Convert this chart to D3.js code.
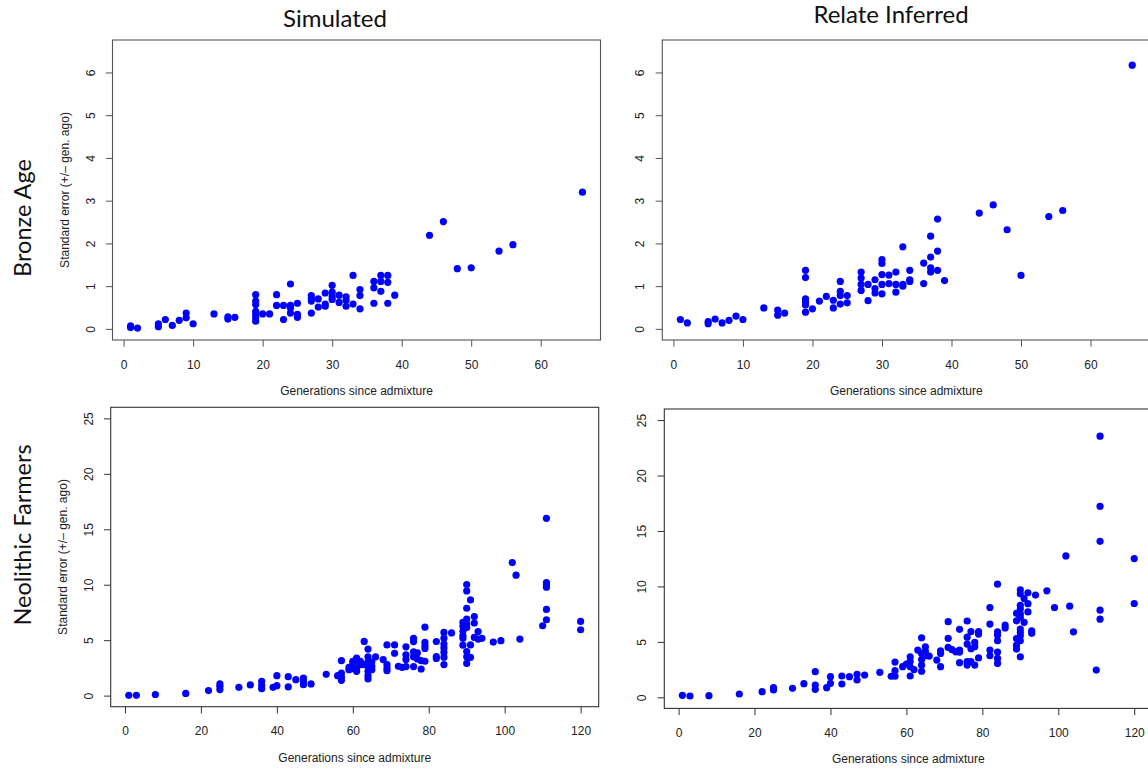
<!DOCTYPE html>
<html>
<head>
<meta charset="utf-8">
<script src="https://cdn.jsdelivr.net/npm/d3@7"></script>
<style>
  html, body { margin: 0; padding: 0; background: #fff; }
  svg { display: block; }
  .rtext { font-family: "Liberation Sans", Arial, Helvetica, sans-serif; font-size: 12px; fill: #222; }
  .big { font-family: Lato, "Open Sans", sans-serif; fill: #111; }
</style>
</head>
<body>
<svg id="chart" width="1148" height="769"></svg>
<script>
// ---------------- DATA ----------------
const columnTitles = ["Simulated", "Relate Inferred"];
const rowTitles = ["Bronze Age", "Neolithic Farmers"];
const xAxisTitle = "Generations since admixture";
const yAxisTitle = "Standard error (+/\u2013 gen. ago)";

const bronzeXTicks = [0, 10, 20, 30, 40, 50, 60];
const bronzeYTicks = [0, 1, 2, 3, 4, 5, 6];
const bronzeYLim = [0, 6.5];
const neoXTicks = [0, 20, 40, 60, 80, 100, 120];
const neoYTicks = [0, 5, 10, 15, 20, 25];
const neoYLim = [0, 25];

// [generations since admixture, standard error]
const bronzeSimulated = [
  [1,0.07],[1,0.03],[2,0.02],[5,0.12],[5,0.05],[6,0.22],[7,0.08],[8,0.2],[9,0.37],[9,0.26],[10,0.12],
  [13,0.35],[15,0.28],[15,0.23],[16,0.27],
  [19,0.8],[19,0.65],[19,0.57],[19,0.41],[19,0.34],[19,0.26],[19,0.18],[20,0.35],[21,0.35],
  [22,0.8],[22,0.55],[23,0.55],[23,0.22],[24,1.05],[24,0.55],[24,0.49],[24,0.37],[25,0.6],[25,0.34],[25,0.27],
  [27,0.78],[27,0.71],[27,0.65],[27,0.37],[28,0.7],[28,0.51],[29,0.84],[29,0.58],[29,0.53],
  [30,1.02],[30,0.86],[30,0.76],[30,0.69],[31,0.79],[31,0.62],[32,0.75],[32,0.67],[32,0.53],
  [33,1.25],[33,0.58],[34,0.92],[34,0.78],[34,0.47],[36,1.11],[36,0.96],[36,0.6],
  [37,1.25],[37,1.11],[37,0.88],[38,1.25],[38,1.09],[38,0.6],[39,0.79],
  [44,2.19],[46,2.51],[48,1.41],[50,1.43],[54,1.82],[56,1.97],[66,3.2]
];
const bronzeRelate = [
  [1,0.22],[2,0.14],[5,0.17],[5,0.12],[6,0.23],[7,0.14],[8,0.2],[9,0.3],[10,0.22],
  [13,0.49],[15,0.44],[15,0.32],[16,0.37],
  [19,1.37],[19,1.2],[19,0.7],[19,0.63],[19,0.56],[19,0.39],[20,0.47],[21,0.65],[22,0.76],
  [23,0.67],[23,0.49],[24,1.11],[24,0.88],[24,0.78],[24,0.58],[25,0.78],[25,0.61],
  [27,1.33],[27,1.19],[27,1.04],[27,0.9],[28,1.04],[28,0.66],[29,1.15],[29,0.94],[29,0.84],
  [30,1.62],[30,1.53],[30,1.27],[30,1.04],[30,0.82],[31,1.26],[31,1.06],[32,1.33],[32,1.04],[32,0.86],
  [33,1.92],[33,1.04],[33,1.0],[34,1.37],[34,1.15],[34,1.11],[36,1.54],[36,1.06],
  [37,2.17],[37,1.68],[37,1.43],[37,1.33],[38,2.57],[38,1.82],[38,1.37],[39,1.13],
  [44,2.71],[46,2.9],[48,2.32],[50,1.25],[54,2.63],[56,2.77],[66,6.17]
];
const neoSimulated = [
  [1,0.03],[3,0.03],[8,0.1],[16,0.2],[22,0.45],[25,1.05],[25,0.84],[25,0.54],[30,0.75],[33,0.96],
  [36,1.29],[36,0.93],[36,0.63],[39,0.75],[40,1.8],[40,0.9],[43,1.71],[43,0.78],[45,1.44],
  [47,1.59],[47,1.29],[47,0.99],[49,1.05],[53,1.92],[56,1.8],
  [57,3.15],[57,2.04],[57,1.68],[57,1.38],[59,2.55],[59,2.34],[60,3.09],[60,2.85],[60,2.64],[60,2.43],
  [61,3.39],[61,3.15],[61,2.49],[61,2.19],[62,3.09],[62,2.8],[63,4.89],[63,2.79],
  [64,4.2],[64,3.5],[64,3.05],[64,2.64],[64,2.19],[64,1.8],[64,1.5],[65,3.05],[65,2.64],[65,2.34],
  [66,3.5],[68,3.25],[69,4.57],[69,2.8],[69,2.49],[69,2.25],[71,4.57],[71,3.82],[72,2.64],[73,2.55],
  [74,4.4],[74,3.68],[74,3.25],[74,2.62],[76,5.17],[76,4.87],[76,3.94],[76,3.5],[76,2.62],
  [77,3.85],[77,3.3],[78,3.15],[78,2.4],[79,6.17],[79,4.8],[79,4.5],[79,4.25],[79,3.1],
  [82,4.88],[82,3.52],[82,3.35],[84,5.7],[84,5.18],[84,4.65],[84,4.3],[84,3.9],[84,3.47],[84,2.8],
  [86,5.65],[89,6.6],[89,6.25],[89,5.8],[89,5.4],[89,5.17],[89,4.55],
  [90,10.02],[90,9.44],[90,7.88],[90,6.9],[90,6.45],[90,6.15],[90,3.97],[90,3.5],[90,2.9],
  [91,8.63],[91,4.57],[91,3.45],[92,7.13],[92,6.55],[92,5.25],[93,5.78],[93,5.1],[94,5.17],
  [97,4.83],[99,4.95],[102,12.0],[103,10.86],[104,5.1],[110,6.3],
  [111,15.99],[111,10.2],[111,9.99],[111,9.78],[111,7.77],[111,6.84],[120,6.69],[120,5.94]
];
const neoRelate = [
  [1,0.18],[3,0.12],[8,0.15],[16,0.3],[22,0.51],[25,0.87],[25,0.66],[30,0.81],[33,1.23],
  [36,2.31],[36,1.11],[36,0.72],[39,0.87],[40,1.86],[40,1.26],[43,1.92],[43,1.2],[45,1.86],
  [47,2.07],[47,1.56],[49,2.01],[53,2.25],[56,1.9],[57,3.18],[57,2.4],[57,1.9],[59,2.76],[60,3.0],
  [61,3.66],[61,3.25],[61,2.75],[61,1.92],[62,2.5],[63,4.26],
  [64,5.37],[64,3.96],[64,3.4],[64,2.9],[64,2.35],[65,4.56],[65,4.15],[65,3.75],[66,3.72],[68,3.36],
  [69,4.2],[69,3.95],[69,2.76],[71,6.82],[71,5.32],[71,4.5],[72,4.3],[73,4.1],
  [74,6.13],[74,4.26],[74,4.08],[74,3.12],[76,6.88],[76,5.42],[76,4.8],[76,3.21],[76,2.91],
  [77,5.92],[77,4.38],[77,3.21],[78,4.95],[78,4.56],[78,2.91],[79,5.92],[79,5.7],[79,3.55],
  [82,8.1],[82,6.6],[82,4.26],[82,3.75],[84,10.2],[84,5.9],[84,5.6],[84,5.1],[84,4.08],[84,3.51],[84,3.06],
  [86,6.52],[86,6.25],[89,7.57],[89,6.9],[89,5.3],[89,4.7],[89,4.35],
  [90,9.7],[90,9.33],[90,8.3],[90,7.98],[90,7.52],[90,7.22],[90,6.15],[90,5.85],[90,5.55],[90,5.1],[90,3.66],
  [91,8.9],[91,6.76],[92,9.43],[92,8.44],[92,7.7],[93,6.0],[93,5.77],[94,9.22],[97,9.6],[99,8.1],
  [102,12.75],[103,8.22],[104,5.91],[110,2.46],
  [111,23.55],[111,17.22],[111,14.07],[111,7.86],[111,7.05],[120,12.51],[120,8.46]
];

// ---------------- LAYOUT ----------------
const svg = d3.select("#chart");
const panelW = 488;
const panels = [
  { data: bronzeSimulated, xt: bronzeXTicks, yt: bronzeYTicks, ylim: bronzeYLim, left: 112.5, top: 40,    h: 300,   ytitle: true,  stroke: "#555" },
  { data: bronzeRelate,    xt: bronzeXTicks, yt: bronzeYTicks, ylim: bronzeYLim, left: 662.3, top: 40,    h: 300,   ytitle: false, stroke: "#555" },
  { data: neoSimulated,    xt: neoXTicks,    yt: neoYTicks,    ylim: neoYLim,    left: 110.7, top: 407.3, h: 299.4, ytitle: true,  stroke: "#333" },
  { data: neoRelate,       xt: neoXTicks,    yt: neoYTicks,    ylim: neoYLim,    left: 664.3, top: 409,   h: 299.4, ytitle: false, stroke: "#333" }
];

// R-style axis limits: data range extended by 4% on each side
function rlim(lo, hi) { const d = (hi - lo) * 0.04; return [lo - d, hi + d]; }

panels.forEach(p => {
  const xExt = d3.extent(p.data, d => d[0]);
  const x = d3.scaleLinear().domain(rlim(xExt[0], xExt[1])).range([p.left, p.left + panelW]);
  const y = d3.scaleLinear().domain(rlim(p.ylim[0], p.ylim[1])).range([p.top + p.h, p.top]);
  const g = svg.append("g");

  // points
  g.append("g").selectAll("circle").data(p.data).join("circle")
    .attr("cx", d => x(d[0])).attr("cy", d => y(d[1]))
    .attr("r", 3.6).attr("fill", "#0000FF");

  // box
  g.append("rect").attr("x", p.left).attr("y", p.top).attr("width", panelW).attr("height", p.h)
    .attr("fill", "none").attr("stroke", p.stroke).attr("stroke-width", 1.1);

  // x axis
  const xa = g.append("g").attr("transform", `translate(0,${p.top + p.h})`)
    .call(d3.axisBottom(x).tickValues(p.xt).tickSize(6.7).tickPadding(13.3).tickFormat(d3.format("d")));
  xa.select(".domain").remove();
  xa.selectAll(".tick line").attr("stroke", p.stroke);
  xa.selectAll(".tick text").attr("class", "rtext").style("font-size", "12px");

  // y axis (labels parallel to axis, R style)
  const ya = g.append("g").attr("transform", `translate(${p.left},0)`)
    .call(d3.axisLeft(y).tickValues(p.yt).tickSize(6.7).tickFormat(d3.format("d")));
  ya.select(".domain").remove();
  ya.selectAll(".tick line").attr("stroke", p.stroke);
  ya.selectAll(".tick text").attr("class", "rtext")
    .attr("x", 0).attr("y", -18).attr("dy", 0)
    .attr("text-anchor", "middle").attr("transform", "rotate(-90)");

  // x axis title
  g.append("text").attr("class", "rtext").attr("text-anchor", "middle")
    .attr("x", p.left + panelW / 2).attr("y", p.top + p.h + 55).text(xAxisTitle);

  if (p.ytitle) {
    const cy = p.top + p.h / 2;
    g.append("text").attr("class", "rtext").attr("text-anchor", "middle")
      .attr("transform", `translate(${p.left - 43.5},${cy}) rotate(-90)`).text(yAxisTitle);
  }
});

// column titles
svg.append("text").attr("class", "big").attr("text-anchor", "middle")
  .attr("x", 335).attr("y", 26.5).style("font-size", "24px").text(columnTitles[0]);
svg.append("text").attr("class", "big").attr("text-anchor", "middle")
  .attr("x", 891).attr("y", 23.3).style("font-size", "24px").text(columnTitles[1]);

// row titles
svg.append("text").attr("class", "big").attr("text-anchor", "middle")
  .attr("transform", "translate(31,218) rotate(-90)").style("font-size", "23.5px").text(rowTitles[0]);
svg.append("text").attr("class", "big").attr("text-anchor", "middle")
  .attr("transform", "translate(31,535) rotate(-90)").style("font-size", "23.5px").text(rowTitles[1]);
</script>
</body>
</html>
